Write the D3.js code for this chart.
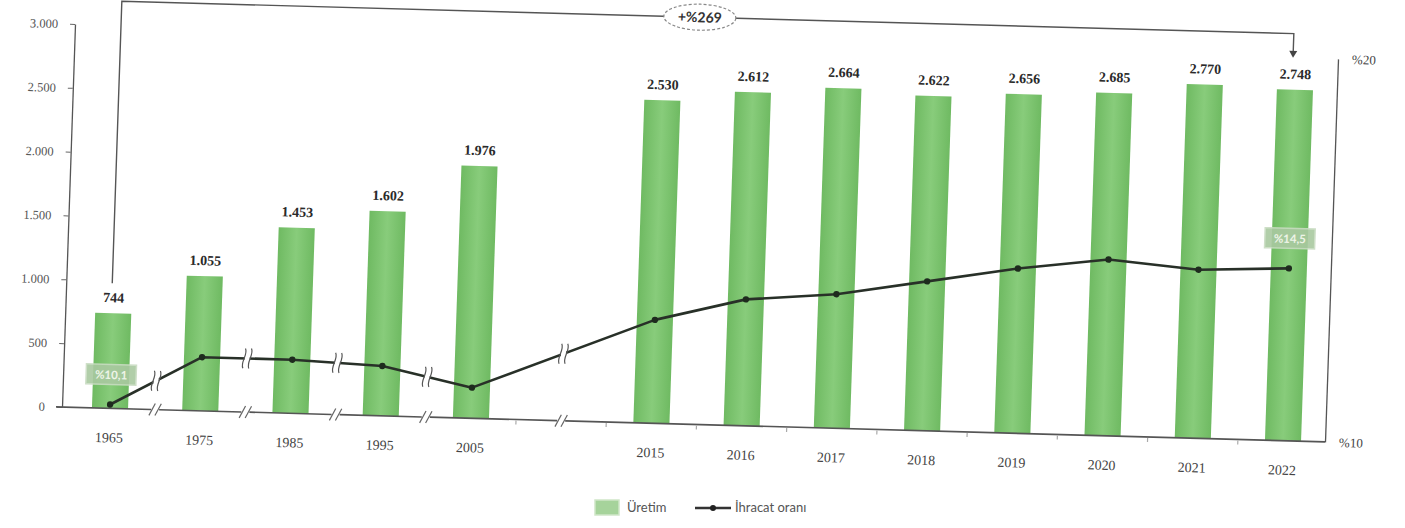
<!DOCTYPE html>
<html><head><meta charset="utf-8">
<script src="https://cdn.jsdelivr.net/npm/d3@7"></script>
<style>body{margin:0;background:#fff}svg{display:block}</style>
</head><body>
<svg id="chart" width="1405" height="528"></svg>
<script>
const categories = ["1965","1975","1985","1995","2005","2015","2016","2017","2018","2019","2020","2021","2022"];
const production = [744,1055,1453,1602,1976,2530,2612,2664,2622,2656,2685,2770,2748];
const exportRate = [10.1,11.4,11.4,11.3,10.8,12.7,13.3,13.5,13.9,14.3,14.6,14.4,14.5];
const leftTicks = [0,500,1000,1500,2000,2500,3000];
const rightTicks = [10,20];
const gapSlot = "gap";
const growthLabel = "+%269";
const rateBoxCats = ["1965","2022"];
const rateBoxLabels = ["%10,1","%14,5"];
const seriesNames = ["Üretim","İhracat oranı"];

const svg = d3.select("#chart");
const defs = svg.append("defs");
const grad = defs.append("linearGradient").attr("id","barGrad").attr("x1","0").attr("x2","1").attr("y1","0").attr("y2","0");
grad.append("stop").attr("offset","0%").attr("stop-color","#6fba62");
grad.append("stop").attr("offset","50%").attr("stop-color","#88cc7b");
grad.append("stop").attr("offset","100%").attr("stop-color","#6fba62");

// affine frame reproducing the scan's tilt
const g = svg.append("g").attr("transform","matrix(1,0.0276,-0.034,1,62,407)");

const slots = [...categories.slice(0,5), gapSlot, ...categories.slice(5)];
const x = d3.scalePoint().domain(slots).range([48,1221]);
const step = x.step();
const barW = step*0.4;
const yL = d3.scaleLinear().domain([0,3000]).range([0,-383]);
const yR = d3.scaleLinear().domain([10,20]).range([0,-383]);
const rightX = 1263;

const serif = "'Liberation Serif', 'DejaVu Serif', serif";
const sans = "Lato, 'Open Sans', sans-serif";

// bars
g.selectAll("rect.bar").data(categories).join("rect").attr("class","bar")
  .attr("x", c => x(c)-barW/2).attr("width", barW)
  .attr("y", (c,i) => yL(production[i])).attr("height", (c,i) => -yL(production[i]))
  .attr("fill","url(#barGrad)");

// left axis
const fmt = d => d3.format(",")(d).replace(/,/g,".");
const axL = g.append("g").call(d3.axisLeft(yL).tickValues(leftTicks).tickFormat(fmt).tickSize(5).tickSizeOuter(0).tickPadding(12));
axL.select(".domain").attr("stroke","#555").attr("stroke-width",1.3);
axL.selectAll(".tick line").attr("stroke","#666");
axL.selectAll("text").attr("font-family",serif).attr("font-size",12.5).attr("fill","#555");

// right axis
const axR = g.append("g").attr("transform",`translate(${rightX},0)`)
  .call(d3.axisRight(yR).tickValues(rightTicks).tickFormat(d => "%"+d).tickSize(0).tickPadding(14));
axR.select(".domain").attr("stroke","#555").attr("stroke-width",1.3);
axR.selectAll("text").attr("font-family",serif).attr("font-size",13).attr("fill","#444");

// x axis with breaks
const breaks = [];
for (let i=0;i<4;i++) breaks.push((x(slots[i])+x(slots[i+1]))/2);
breaks.push(x(gapSlot));
let segStart = -6;
const axisPath = d3.path();
breaks.forEach(b => { axisPath.moveTo(segStart,0); axisPath.lineTo(b-4,0); segStart = b+4; });
axisPath.moveTo(segStart,0); axisPath.lineTo(rightX,0);
g.append("path").attr("d",axisPath.toString()).attr("stroke","#555").attr("stroke-width",1.6).attr("fill","none");
breaks.forEach(b => {
  [-3,3].forEach(o => g.append("line").attr("x1",b+o-3).attr("y1",6).attr("x2",b+o+3).attr("y2",-6)
    .attr("stroke","#666").attr("stroke-width",1.2));
});
// minor ticks
for (let i=4;i<slots.length-1;i++){
  const mx = (x(slots[i])+x(slots[i+1]))/2;
  g.append("line").attr("x1",mx).attr("x2",mx).attr("y1",1).attr("y2",5).attr("stroke","#aaa").attr("stroke-width",1.2);
}

// year labels
g.selectAll("text.year").data(categories).join("text").attr("class","year")
  .attr("x", c => x(c)).attr("y", 34).attr("text-anchor","middle")
  .attr("font-family",serif).attr("font-size",14).attr("fill","#444").text(c => c);

// value labels
g.selectAll("text.val").data(categories).join("text").attr("class","val")
  .attr("x", c => x(c)).attr("y", (c,i) => yL(production[i]) - 11).attr("text-anchor","middle")
  .attr("font-family",serif).attr("font-size",14).attr("font-weight","bold").attr("fill","#2a2a2a")
  .text((c,i) => fmt(production[i]));

// export rate line
const pts = categories.map((c,i) => ({c, v: exportRate[i]}));
const line = d3.line().x(d => x(d.c)).y(d => yR(d.v)).curve(d3.curveLinear);
g.append("path").attr("d", line(pts)).attr("fill","none").attr("stroke","#283028").attr("stroke-width",2.6).attr("stroke-linejoin","round");
g.selectAll("circle.pt").data(pts).join("circle").attr("class","pt")
  .attr("cx", d => x(d.c)).attr("cy", d => yR(d.v)).attr("r",3.2).attr("fill","#1e2b1e");

// break marks on the line
const lineY = xb => {
  for (let i=0;i<pts.length-1;i++){
    const x0 = x(pts[i].c), x1 = x(pts[i+1].c);
    if (xb>=x0 && xb<=x1){ const t=(xb-x0)/(x1-x0); return yR(pts[i].v + t*(pts[i+1].v-pts[i].v)); }
  }
  return 0;
};
breaks.forEach(b => {
  const yb = lineY(b);
  g.append("rect").attr("x",b-2.5).attr("y",yb-8).attr("width",5).attr("height",16).attr("fill","#fff");
  [-3,3].forEach(o => g.append("path")
    .attr("d",`M${b+o+1},${yb-10} C${b+o+4},${yb-4} ${b+o-4},${yb+4} ${b+o-1},${yb+10}`)
    .attr("fill","none").attr("stroke","#555").attr("stroke-width",1.2));
});

// rate boxes
rateBoxCats.forEach((c,k) => {
  const i = categories.indexOf(c);
  const cx = x(c), cy = yR(exportRate[i]) - 30;
  g.append("rect").attr("x",cx-25).attr("y",cy-10).attr("width",50).attr("height",20)
    .attr("fill","#a9c9a0").attr("stroke","#c9dcc2").attr("stroke-width",1.5).attr("opacity",0.9);
  g.append("text").attr("x",cx).attr("y",cy+4.5).attr("text-anchor","middle")
    .attr("font-family",sans).attr("font-size",11.5).attr("font-weight","bold").attr("fill","#eef4e8").text(rateBoxLabels[k]);
});

// growth bracket annotation
const xa = x(categories[0]) - 2, xb2 = x(categories[categories.length-1]) - 3;
const topY = -407;
const startY = yL(production[0]) - 30;
const endY = yL(production[production.length-1]) - 32;
g.append("path").attr("d",`M${xa},${startY} L${xa},${topY} L${xb2},${topY} L${xb2},${endY-6}`)
  .attr("fill","none").attr("stroke","#555").attr("stroke-width",1.4);
g.append("path").attr("d",`M${xb2-4},${endY-7} L${xb2+4},${endY-7} L${xb2},${endY} Z`).attr("fill","#444");
const ex = (xa+xb2)/2 - 8;
g.append("ellipse").attr("cx",ex).attr("cy",topY).attr("rx",36).attr("ry",13)
  .attr("fill","#fff").attr("stroke","#888").attr("stroke-width",1.2).attr("stroke-dasharray","3,2");
g.append("text").attr("x",ex).attr("y",topY+5).attr("text-anchor","middle")
  .attr("font-family",sans).attr("font-size",14).attr("font-weight","bold").attr("fill","#333").text(growthLabel);

// legend (screen frame)
const lg = svg.append("g").attr("transform","translate(595,500)");
lg.append("rect").attr("x",0).attr("y",0).attr("width",24).attr("height",15)
  .attr("fill","#a6d39b").attr("stroke","#cfe6c8").attr("stroke-width",1.5);
lg.append("text").attr("x",32).attr("y",12).attr("font-family",sans).attr("font-size",13).attr("fill","#555").text(seriesNames[0]);
lg.append("line").attr("x1",100).attr("x2",136).attr("y1",8).attr("y2",8).attr("stroke","#333").attr("stroke-width",2.4);
lg.append("circle").attr("cx",118).attr("cy",8).attr("r",3).attr("fill","#222");
lg.append("text").attr("x",140).attr("y",12).attr("font-family",sans).attr("font-size",13).attr("fill","#555").text(seriesNames[1]);
</script>
</body></html>
